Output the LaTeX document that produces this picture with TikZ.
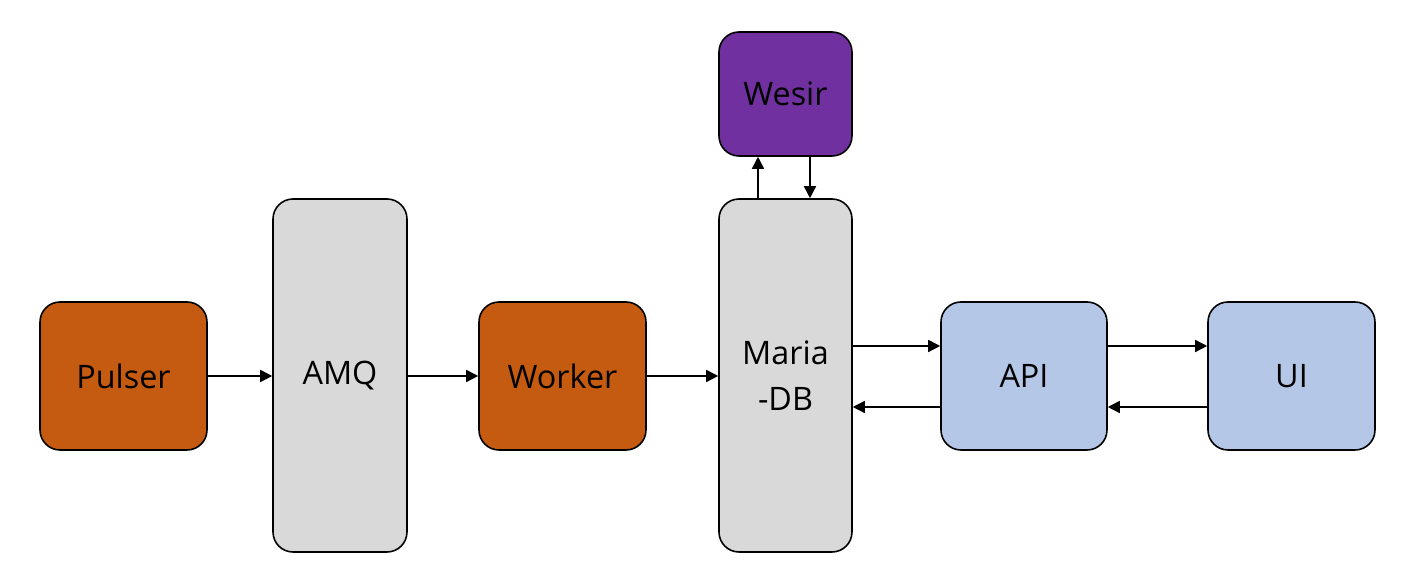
\documentclass[tikz,border=0pt]{standalone}
\usepackage{fontspec}
\setmainfont{Open Sans}
\usepackage{tikz}
\usetikzlibrary{arrows.meta, positioning}
\definecolor{rust}{HTML}{C55A11}
\definecolor{boxgray}{HTML}{D9D9D9}
\definecolor{wesirpurple}{HTML}{7030A0}
\definecolor{paleblue}{HTML}{B4C7E7}

\begin{document}
\begin{tikzpicture}[
	box/.style={draw=black, line width=0.45pt, rounded corners=0.2cm, align=center, inner sep=0pt, font=\fontsize{9.2}{13}\selectfont},
	small/.style={box, minimum width=1.67cm, minimum height=1.48cm},
	tall/.style={box, minimum width=1.34cm, minimum height=3.53cm},
	link/.style={-{Triangle[length=0.12cm, width=0.12cm]}, line width=0.45pt}
]

% page frame, 1px of the original = 0.1mm
\useasboundingbox (0,0) rectangle (14.16,5.86);

\def \up{0.30cm}
\def \dn{-0.31cm}

\node[small, fill=rust]        (pulser) at (1.235, 2.10)  {Pulser};
\node[tall,  fill=boxgray]     (amq)    at (3.40, 2.105)  {AMQ};
\node[small, fill=rust]        (worker) at (5.625, 2.10)  {Worker};
\node[tall,  fill=boxgray, minimum width=1.33cm] (maria) at (7.855, 2.105) {Maria\\-DB};
\node[box,   fill=wesirpurple, minimum width=1.33cm, minimum height=1.24cm] (wesir) at (7.855, 4.92) {Wesir};
\node[small, fill=paleblue, minimum width=1.66cm] (api) at (10.24, 2.10) {API};
\node[small, fill=paleblue]    (ui)     at (12.915, 2.10) {UI};

% pipeline
\draw[link] (pulser) -- (pulser -| amq.west);
\draw[link] (amq.east |- worker) -- (worker);
\draw[link] (worker) -- (worker -| maria.west);

% db <-> wesir
\draw[link] ([xshift=-0.275cm]maria.north) -- ([xshift=-0.275cm]wesir.south);
\draw[link] ([xshift=0.245cm]wesir.south) -- ([xshift=0.245cm]maria.north);

% db <-> api <-> ui
\draw[link] ([yshift=\up]maria.east |- api) -- ([yshift=\up]api.west);
\draw[link] ([yshift=\dn]api.west) -- ([yshift=\dn]maria.east |- api);
\draw[link] ([yshift=\up]api.east) -- ([yshift=\up]ui.west);
\draw[link] ([yshift=\dn]ui.west) -- ([yshift=\dn]api.east);

\end{tikzpicture}
\end{document}
